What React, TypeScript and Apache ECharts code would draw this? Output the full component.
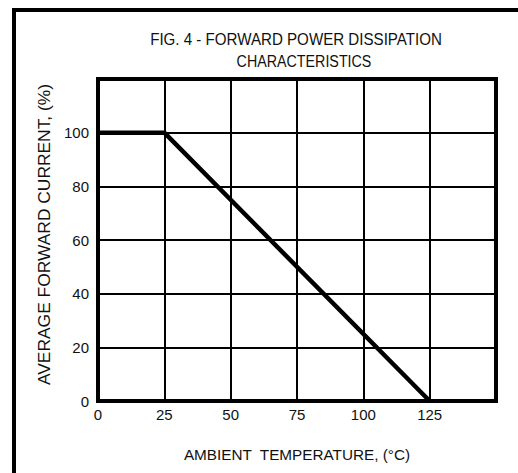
import React, { useEffect, useRef } from "react";
import * as echarts from "echarts";

const titleLines = ["FIG. 4 - FORWARD POWER DISSIPATION", "CHARACTERISTICS"];
const xAxisName = "AMBIENT  TEMPERATURE, (°C)";
const yAxisName = "AVERAGE FORWARD CURRENT, (%)";
const xTickLabels = ["0", "25", "50", "75", "100", "125"];
const yTickLabels = ["0", "20", "40", "60", "80", "100"];
const temperature = [0, 25, 125];
const currentPct = [100, 100, 0];

const FONT = "'Liberation Sans', Arial, sans-serif";

export default function App() {
  const ref = useRef<HTMLDivElement>(null);
  useEffect(() => {
    if (!ref.current) return;
    const chart = echarts.init(ref.current, null, { renderer: "svg" });
    chart.setOption({
      animation: false,
      backgroundColor: "#ffffff",
      grid: {
        left: 98,
        right: 22,
        top: 79,
        bottom: 72,
        show: true,
        borderColor: "#000",
        borderWidth: 4,
        containLabel: false,
      },
      graphic: [
        {
          type: "polyline",
          shape: { points: [[14, 600], [14, 10], [600, 10]] },
          style: { stroke: "#000", lineWidth: 4, fill: "none" },
          z: 10,
        },
        {
          type: "text",
          x: 296,
          y: 39,
          scaleX: 0.89,
          style: {
            text: titleLines[0],
            font: `17px ${FONT}`,
            fill: "#111",
            align: "center",
            verticalAlign: "middle",
          },
        },
        {
          type: "text",
          x: 304,
          y: 61,
          scaleX: 0.84,
          style: {
            text: titleLines[1],
            font: `17px ${FONT}`,
            fill: "#111",
            align: "center",
            verticalAlign: "middle",
          },
        },
      ],
      xAxis: {
        type: "value",
        min: 0,
        max: 150,
        interval: 25,
        name: xAxisName,
        nameLocation: "middle",
        nameGap: 46,
        nameTextStyle: { fontFamily: FONT, fontSize: 15.3, color: "#111" },
        axisLine: { show: true, lineStyle: { color: "#000", width: 4 } },
        axisTick: { show: false },
        axisLabel: {
          margin: 6,
          fontFamily: FONT,
          fontSize: 15,
          color: "#111",
          formatter: (v: number) => {
            const s = String(v);
            return xTickLabels.includes(s) ? s : "";
          },
        },
        splitLine: { show: true, lineStyle: { color: "#000", width: 2 } },
      },
      yAxis: {
        type: "value",
        min: 0,
        max: 120,
        interval: 20,
        name: yAxisName,
        nameLocation: "middle",
        nameGap: 46,
        nameTextStyle: {
          fontFamily: FONT,
          fontSize: 17.4,
          color: "#111",
          padding: [0, 0, 0, 11],
        },
        axisLine: { show: true, lineStyle: { color: "#000", width: 4 } },
        axisTick: { show: false },
        axisLabel: {
          margin: 9,
          fontFamily: FONT,
          fontSize: 15,
          color: "#111",
          formatter: (v: number) => {
            const s = String(v);
            return yTickLabels.includes(s) ? s : "";
          },
        },
        splitLine: { show: true, lineStyle: { color: "#000", width: 2 } },
      },
      series: [
        {
          type: "line",
          data: temperature.map((t, i) => [t, currentPct[i]]),
          symbol: "none",
          lineStyle: { color: "#000", width: 4.5 },
          z: 5,
        },
      ],
    });
    return () => chart.dispose();
  }, []);
  return <div ref={ref} style={{ width: 518, height: 473, position: "absolute", left: 0, top: 0 }} />;
}
